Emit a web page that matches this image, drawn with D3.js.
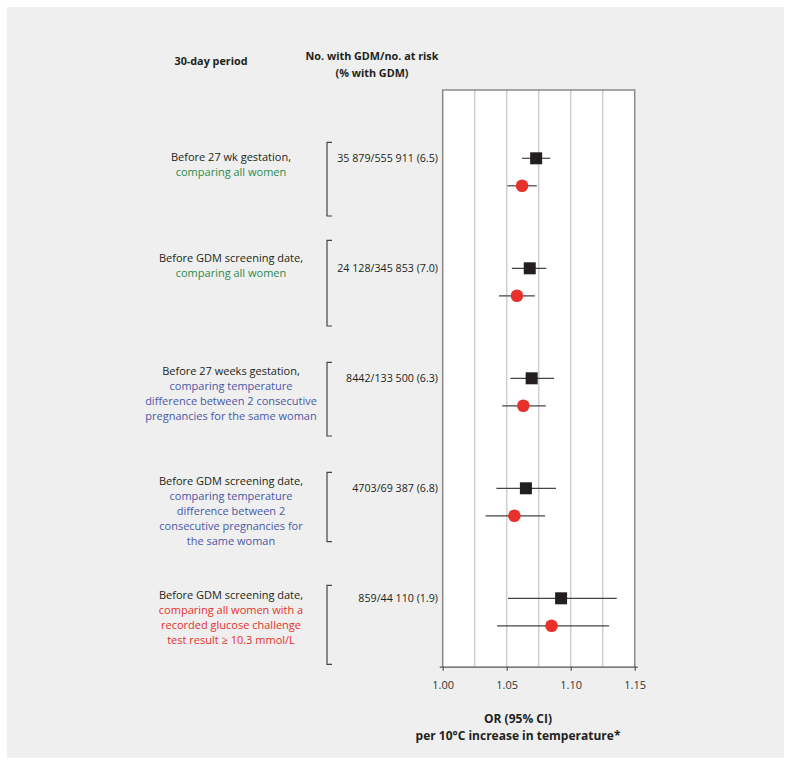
<!DOCTYPE html>
<html><head><meta charset="utf-8">
<script src="https://cdn.jsdelivr.net/npm/d3@7"></script>
<style>html,body{margin:0;padding:0;background:#fff;}svg{display:block;}</style>
</head><body>
<svg id="chart" width="791" height="765"></svg>
<script>
// ---- data ----
const labelLines = [
  [["Before 27 wk gestation,","k"],["comparing all women","g"]],
  [["Before GDM screening date,","k"],["comparing all women","g"]],
  [["Before 27 weeks gestation,","k"],["comparing temperature","b"],["difference between 2 consecutive","b"],["pregnancies for the same woman","b"]],
  [["Before GDM screening date,","k"],["comparing temperature","b"],["difference between 2","b"],["consecutive pregnancies for","b"],["the same woman","b"]],
  [["Before GDM screening date,","k"],["comparing all women with a","r"],["recorded glucose challenge","r"],["test result \u2265 10.3 mmol/L","r"]]
];
const counts = ["35 879/555 911 (6.5)","24 128/345 853 (7.0)","8442/133 500 (6.3)","4703/69 387 (6.8)","859/44 110 (1.9)"];
const squareOR = [1.073, 1.068, 1.0695, 1.065, 1.0925];
const squareLo = [1.062, 1.054, 1.053, 1.042, 1.051];
const squareHi = [1.084, 1.081, 1.087, 1.0885, 1.136];
const circleOR = [1.062, 1.058, 1.063, 1.056, 1.085];
const circleLo = [1.0505, 1.044, 1.0465, 1.0335, 1.0425];
const circleHi = [1.0735, 1.072, 1.0805, 1.080, 1.130];
const xTicks = [1.00, 1.05, 1.10, 1.15];
const gridTicks = [1.025, 1.05, 1.075, 1.10, 1.125];

// ---- layout ----
const FONT = "'Open Sans', sans-serif";
const colors = {k:"#231f20", g:"#2a8a4e", b:"#4b58a6", r:"#e8312a"};
const svg = d3.select("#chart");
svg.append("rect").attr("x",7).attr("y",7).attr("width",777).attr("height",751).attr("fill","#eeefee");

const plotTop = 90, plotBottom = 666.7;
const x = d3.scaleLinear().domain([1.0, 1.15]).range([442.7, 634.7]);
const y = d3.scaleLinear().domain([0, 5]).range([158.3, 708.3]);
const circleShift = 0.25;

svg.append("rect").attr("x",x(1)).attr("y",plotTop).attr("width",x(1.15)-x(1)).attr("height",plotBottom-plotTop).attr("fill","#fff");
svg.append("g").selectAll("line").data(gridTicks).join("line")
  .attr("x1",d=>x(d)).attr("x2",d=>x(d)).attr("y1",plotTop).attr("y2",plotBottom)
  .attr("stroke","#cfcfcf").attr("stroke-width",1.5);
// box border
svg.append("path").attr("d",`M${x(1)},${plotBottom}V${plotTop}H${x(1.15)}V${plotBottom}`)
  .attr("fill","none").attr("stroke","#8a8a8a").attr("stroke-width",1.5);

// axis
const axis = d3.axisBottom(x).tickValues(xTicks).tickFormat(d3.format(".2f")).tickSize(4).tickPadding(11).tickSizeOuter(0);
const ag = svg.append("g").attr("transform",`translate(0,${plotBottom})`).call(axis);
ag.select(".domain").attr("stroke","#555").attr("stroke-width",1.2).attr("d",`M${x(1)-3},0.5H${x(1.15)+3}`);
ag.selectAll(".tick line").attr("stroke","#555").attr("stroke-width",1.2);
ag.selectAll(".tick text").attr("font-family",FONT).attr("font-size",11).attr("fill","#333");

// axis title
const titleStyle = s => s.attr("text-anchor","middle").attr("dominant-baseline","central")
  .attr("font-family",FONT).attr("font-weight",700).attr("font-size",12).attr("fill","#231f20");
svg.append("text").attr("x",518).attr("y",718).call(titleStyle).text("OR (95% CI)");
svg.append("text").attr("x",518).attr("y",735).call(titleStyle).text("per 10\u00b0C increase in temperature*");

// headers
const headStyle = s => s.attr("text-anchor","middle").attr("dominant-baseline","central")
  .attr("font-family",FONT).attr("font-weight",700).attr("font-size",10.8).attr("fill","#231f20");
svg.append("text").attr("x",211).attr("y",60).call(headStyle).text("30-day period");
svg.append("text").attr("x",372).attr("y",55.7).call(headStyle).text("No. with GDM/no. at risk");
svg.append("text").attr("x",372).attr("y",72.3).call(headStyle).text("(% with GDM)");

// labels
const firstLineShift = [-2, -11, -8, -8, -4];
const lineH = 15;
labelLines.forEach((lines,i)=>{
  svg.append("g").selectAll("text").data(lines).join("text")
    .attr("x",231).attr("y",(d,j)=>y(i)+firstLineShift[i]+j*lineH)
    .attr("text-anchor","middle").attr("dominant-baseline","central")
    .attr("font-family",FONT).attr("font-size",11).attr("fill",d=>colors[d[1]]).text(d=>d[0]);
});
// counts
svg.append("g").selectAll("text").data(counts).join("text")
  .attr("x",438).attr("y",(d,i)=>y(i)).attr("text-anchor","end").attr("dominant-baseline","central")
  .attr("font-family",FONT).attr("font-size",10.7).attr("fill","#231f20").text(d=>d);
// brackets
const brTop = [-16, -28, -16, -16, -13], brBot = [57.7, 57.7, 57.7, 53.4, 66];
svg.append("g").selectAll("path").data(counts).join("path")
  .attr("d",(d,i)=>`M332,${y(i)+brTop[i]}H327V${y(i)+brBot[i]}H332`)
  .attr("fill","none").attr("stroke","#444").attr("stroke-width",1.2);

// CI lines
const idx = d3.range(counts.length);
svg.append("g").selectAll("line").data(idx).join("line")
  .attr("x1",i=>x(squareLo[i])).attr("x2",i=>x(squareHi[i])).attr("y1",i=>y(i)).attr("y2",i=>y(i))
  .attr("stroke","#444").attr("stroke-width",1.2);
svg.append("g").selectAll("line").data(idx).join("line")
  .attr("x1",i=>x(circleLo[i])).attr("x2",i=>x(circleHi[i])).attr("y1",i=>y(i+circleShift)).attr("y2",i=>y(i+circleShift))
  .attr("stroke","#444").attr("stroke-width",1.2);
// markers
svg.append("g").selectAll("rect").data(idx).join("rect")
  .attr("x",i=>x(squareOR[i])-6).attr("y",i=>y(i)-6).attr("width",12).attr("height",12).attr("fill","#231f20");
svg.append("g").selectAll("circle").data(idx).join("circle")
  .attr("cx",i=>x(circleOR[i])).attr("cy",i=>y(i+circleShift)).attr("r",6.3).attr("fill","#e8312a");
</script>
</body></html>
